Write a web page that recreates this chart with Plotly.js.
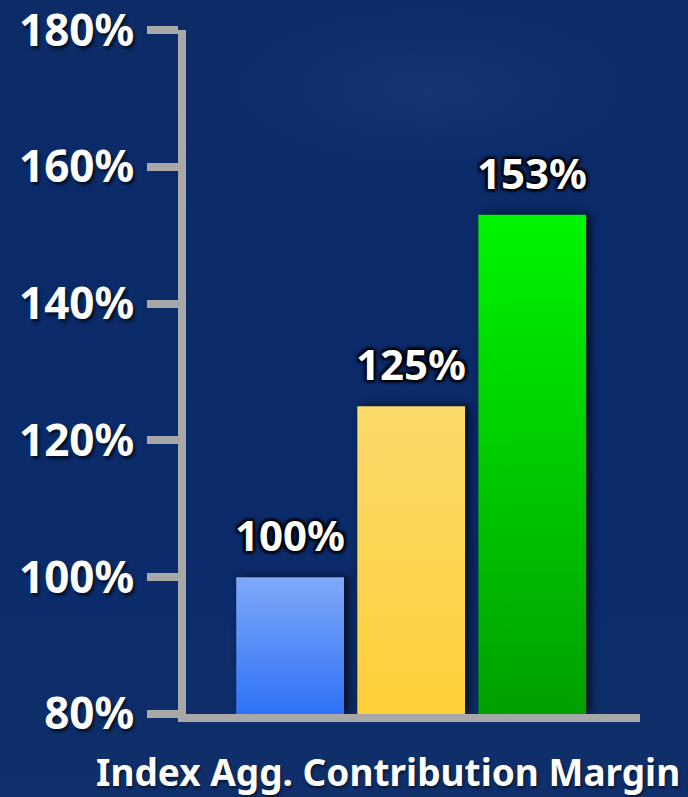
<!DOCTYPE html>
<html>
<head>
<meta charset="utf-8">
<script src="https://cdn.plot.ly/plotly-3.0.1.min.js"></script>
<style>
html,body{margin:0;padding:0;width:688px;height:797px;overflow:hidden;}
body{background:
 radial-gradient(ellipse 300px 120px at 430px 90px, rgba(70,100,160,0.18), rgba(70,100,160,0) 70%),
 linear-gradient(180deg,#0c2b67 0%,#0a2a69 45%,#0b2b6a 75%,#10306b 100%);}
#chart{width:688px;height:797px;}
</style>
</head>
<body>
<div id="chart"></div>
<script>
const categories = ["Base", "Scenario A", "Scenario B"];
const values = [100, 125, 153];
const barLabels = ["100%", "125%", "153%"];
const barColors = ["#5a93f8", "#fdd550", "#00c800"];
const barTopColors = ["#7fa9f8", "#fcda6c", "#00f400"];
const barBottomColors = ["#2e72f6", "#fdcf38", "#00a000"];
const tickValues = [80, 100, 120, 140, 160, 180];
const tickLabels = ["80%", "100%", "120%", "140%", "160%", "180%"];
const xTitle = "Index Agg. Contribution Margin";

const FONT = "Noto Sans, Open Sans, sans-serif";

const trace = {
  type: "bar",
  x: categories,
  y: values.map(v => v - 80),
  base: 80,
  width: 0.89,
  marker: {color: barColors, line: {width: 0}},
  hoverinfo: "skip"
};

const annotations = categories.map((c, i) => ({
  x: c, y: values[i], xref: "x", yref: "y",
  text: "<b>" + barLabels[i] + "</b>",
  showarrow: false, yanchor: "bottom", yshift: 12,
  font: {family: FONT, size: 42, color: "#ffffff", shadow: "2px 2px 3px #000, -2px -2px 3px #000, 2px -2px 3px #000, -2px 2px 3px #000"}
}));
annotations.push({
  xref: "paper", yref: "paper", x: 0.445, y: 0, yanchor: "top", yshift: -30,
  text: "<b>" + xTitle + "</b>", showarrow: false,
  font: {family: FONT, size: 37, color: "#ffffff", shadow: "1px 2px 3px rgba(0,0,0,0.6)"}
});

const layout = {
  width: 688, height: 797,
  margin: {l: 186, r: 48, t: 30, b: 83, pad: 0},
  paper_bgcolor: "rgba(0,0,0,0)",
  plot_bgcolor: "rgba(0,0,0,0)",
  showlegend: false,
  xaxis: {
    type: "category",
    range: [-0.86, 2.89],
    showticklabels: false, ticks: "",
    showgrid: false, zeroline: false,
    showline: true, linecolor: "#a8a8a8", linewidth: 8,
    fixedrange: true
  },
  yaxis: {
    range: [80, 180.02],
    tickvals: tickValues, ticktext: tickLabels,
    ticks: "outside", ticklen: 31, tickwidth: 8, tickcolor: "#a8a8a8",
    ticklabelstandoff: 4,
    ticklabeloverflow: "allow",
    automargin: false,
    tickfont: {family: FONT, size: 44, color: "#ffffff", weight: "bold", shadow: "2px 3px 3px rgba(0,0,0,0.6)"},
    showgrid: false, zeroline: false,
    showline: true, linecolor: "#a8a8a8", linewidth: 8,
    fixedrange: true
  },
  annotations: annotations
};

Plotly.newPlot("chart", [trace], layout, {displayModeBar: false, staticPlot: true}).then(gd => {
  const svg = gd.querySelector("svg.main-svg");
  const ns = "http://www.w3.org/2000/svg";
  let defs = svg.querySelector("defs");
  if (!defs) { defs = document.createElementNS(ns, "defs"); svg.insertBefore(defs, svg.firstChild); }
  barTopColors.forEach((top, i) => {
    const g = document.createElementNS(ns, "linearGradient");
    g.setAttribute("id", "bargrad" + i);
    g.setAttribute("x1", "0"); g.setAttribute("y1", "0");
    g.setAttribute("x2", "0"); g.setAttribute("y2", "1");
    [[0, top], [1, barBottomColors[i]]].forEach(([o, c]) => {
      const s = document.createElementNS(ns, "stop");
      s.setAttribute("offset", o); s.setAttribute("stop-color", c);
      g.appendChild(s);
    });
    defs.appendChild(g);
  });
  gd.querySelectorAll(".bars .point path").forEach((p, i) => {
    p.style.fill = "url(#bargrad" + i + ")";
    p.style.filter = "drop-shadow(4px 0px 4px rgba(0,0,0,0.75))";
  });
});
</script>
</body>
</html>
